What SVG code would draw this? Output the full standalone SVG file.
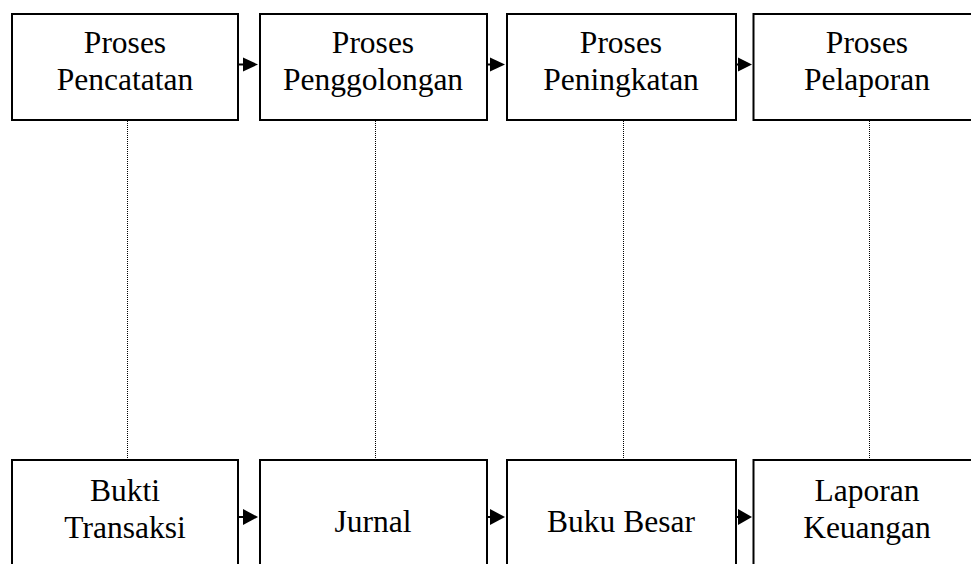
<svg xmlns="http://www.w3.org/2000/svg" width="971" height="564" viewBox="0 0 971 564">
<style>
.box{fill:#fff;stroke:#000;stroke-width:2}
.t{font-family:"Liberation Serif","Times New Roman",serif;font-size:31.5px;fill:#000;text-anchor:middle}
.dot{stroke:#000;stroke-width:1;stroke-dasharray:1 1;fill:none}
.arr{stroke:#000;stroke-width:2;fill:none}
</style>
<rect width="971" height="564" fill="#fff"/>
<g id="connectors">
<line class="dot" x1="127.5" y1="121" x2="127.5" y2="459"/>
<line class="dot" x1="375.5" y1="121" x2="375.5" y2="459"/>
<line class="dot" x1="623.5" y1="121" x2="623.5" y2="459"/>
<line class="dot" x1="869.5" y1="121" x2="869.5" y2="459"/>
<line class="arr" x1="239" y1="64.5" x2="245" y2="64.5"/>
<polygon points="243,57.5 258,64.5 243,71.5"/>
<line class="arr" x1="487" y1="64.5" x2="492" y2="64.5"/>
<polygon points="490,57.5 505,64.5 490,71.5"/>
<line class="arr" x1="736" y1="64.5" x2="740" y2="64.5"/>
<polygon points="738,57.5 752,64.5 738,71.5"/>
<line class="arr" x1="239" y1="517" x2="245" y2="517"/>
<polygon points="243,509 258,517 243,525"/>
<line class="arr" x1="487" y1="517" x2="492" y2="517"/>
<polygon points="490,509 505,517 490,525"/>
<line class="arr" x1="736" y1="517" x2="740" y2="517"/>
<polygon points="738,509 752,517 738,525"/>
</g>
<g id="n1"><rect class="box" x="12" y="14" width="226" height="106"/><text class="t" x="125" y="53">Proses</text><text class="t" x="125" y="90">Pencatatan</text></g>
<g id="n2"><rect class="box" x="260" y="14" width="227" height="106"/><text class="t" x="373" y="53">Proses</text><text class="t" x="373" y="90">Penggolongan</text></g>
<g id="n3"><rect class="box" x="507" y="14" width="229" height="106"/><text class="t" x="621" y="53">Proses</text><text class="t" x="621" y="90">Peningkatan</text></g>
<g id="n4"><rect class="box" x="753.5" y="14" width="227" height="106"/><text class="t" x="867" y="53">Proses</text><text class="t" x="867" y="90">Pelaporan</text></g>
<g id="n5"><rect class="box" x="12" y="460" width="226" height="120"/><text class="t" x="125" y="501">Bukti</text><text class="t" x="125" y="538">Transaksi</text></g>
<g id="n6"><rect class="box" x="260" y="460" width="227" height="120"/><text class="t" x="373" y="532">Jurnal</text></g>
<g id="n7"><rect class="box" x="507" y="460" width="229" height="120"/><text class="t" x="621" y="532">Buku Besar</text></g>
<g id="n8"><rect class="box" x="753.5" y="460" width="227" height="120"/><text class="t" x="867" y="501">Laporan</text><text class="t" x="867" y="538">Keuangan</text></g>
</svg>
